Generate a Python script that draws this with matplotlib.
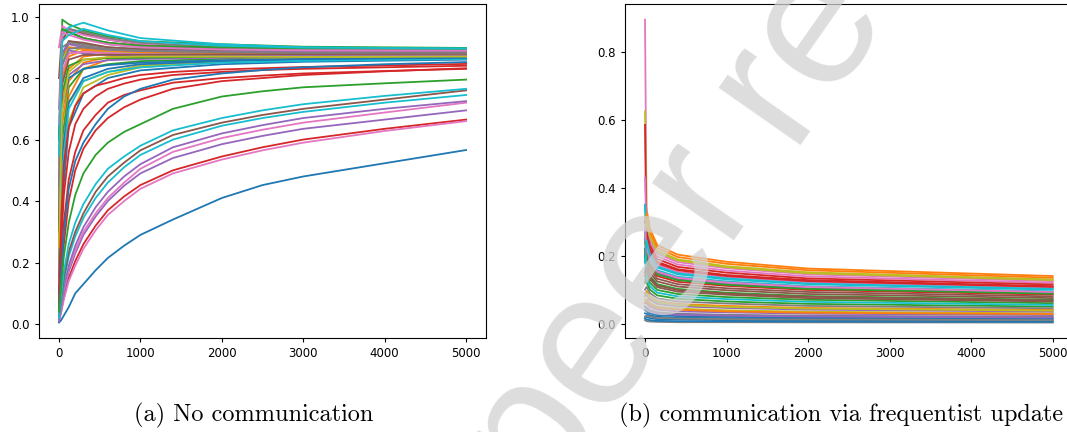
import matplotlib.pyplot as plt

x_slow = [0, 25, 60, 120, 200, 300, 450, 600, 800, 1000, 1400, 2000, 2500, 3000, 4000, 5000]
x_left = [0, 40, 120, 300, 600, 1000, 2000, 3000, 5000]
x_right = [0, 20, 60, 150, 400, 1000, 2000, 5000]

# (a) no communication -- slow learners (bottom fan)
left_slow = [
    [0.005, 0.012, 0.028, 0.055, 0.10, 0.13, 0.175, 0.215, 0.255, 0.29, 0.34, 0.41, 0.452, 0.48, 0.523, 0.566],
    [0.01, 0.04, 0.09, 0.15, 0.205, 0.26, 0.32, 0.37, 0.415, 0.452, 0.50, 0.545, 0.575, 0.60, 0.635, 0.665],
    [0.01, 0.035, 0.08, 0.14, 0.19, 0.245, 0.305, 0.355, 0.40, 0.44, 0.49, 0.535, 0.565, 0.59, 0.628, 0.66],
    [0.01, 0.05, 0.10, 0.17, 0.23, 0.29, 0.35, 0.40, 0.45, 0.49, 0.54, 0.585, 0.612, 0.635, 0.665, 0.695],
    [0.02, 0.055, 0.11, 0.18, 0.24, 0.30, 0.36, 0.41, 0.46, 0.505, 0.56, 0.605, 0.632, 0.655, 0.688, 0.72],
    [0.02, 0.06, 0.12, 0.19, 0.255, 0.315, 0.38, 0.43, 0.48, 0.52, 0.575, 0.62, 0.647, 0.67, 0.70, 0.725],
    [0.02, 0.07, 0.14, 0.22, 0.285, 0.345, 0.41, 0.46, 0.51, 0.55, 0.60, 0.645, 0.67, 0.69, 0.72, 0.745],
    [0.03, 0.08, 0.15, 0.235, 0.30, 0.36, 0.43, 0.48, 0.525, 0.565, 0.615, 0.655, 0.68, 0.70, 0.73, 0.76],
    [0.03, 0.09, 0.17, 0.26, 0.33, 0.39, 0.455, 0.505, 0.545, 0.58, 0.63, 0.67, 0.695, 0.715, 0.742, 0.765],
    [0.04, 0.12, 0.22, 0.33, 0.42, 0.49, 0.55, 0.59, 0.625, 0.65, 0.70, 0.74, 0.757, 0.77, 0.783, 0.795],
]
left_slow_colors = ['C0', 'C3', 'C6', 'C4', 'C6', 'C4', 'C9', 'C5', 'C9', 'C2']

# medium learners ending around 0.83-0.85
left_mid = [
    [0.05, 0.13, 0.26, 0.40, 0.50, 0.57, 0.63, 0.67, 0.705, 0.73, 0.765, 0.79, 0.80, 0.81, 0.822, 0.832],
    [0.06, 0.18, 0.33, 0.47, 0.56, 0.63, 0.68, 0.72, 0.745, 0.76, 0.785, 0.80, 0.808, 0.815, 0.823, 0.83],
    [0.08, 0.25, 0.42, 0.56, 0.65, 0.70, 0.74, 0.765, 0.782, 0.795, 0.81, 0.82, 0.826, 0.83, 0.835, 0.84],
    [0.10, 0.32, 0.52, 0.64, 0.71, 0.75, 0.775, 0.785, 0.80, 0.81, 0.82, 0.828, 0.832, 0.836, 0.841, 0.846],
    [0.05, 0.15, 0.30, 0.44, 0.53, 0.59, 0.65, 0.70, 0.74, 0.765, 0.795, 0.815, 0.826, 0.835, 0.845, 0.852],
]
left_mid_colors = ['C3', 'C3', 'C3', 'C3', 'C0']

# fast learners (top band)
left_band = [
    [0.15, 0.55, 0.74, 0.83, 0.86, 0.87, 0.875, 0.876, 0.877],
    [0.50, 0.93, 0.95, 0.93, 0.91, 0.90, 0.892, 0.89, 0.888],
    [0.10, 0.45, 0.66, 0.77, 0.81, 0.835, 0.855, 0.862, 0.868],
    [0.35, 0.72, 0.83, 0.87, 0.88, 0.882, 0.88, 0.879, 0.88],
    [0.20, 0.60, 0.77, 0.83, 0.845, 0.855, 0.862, 0.866, 0.87],
    [0.80, 0.96, 0.95, 0.93, 0.915, 0.905, 0.895, 0.892, 0.89],
    [0.25, 0.88, 0.92, 0.91, 0.90, 0.895, 0.89, 0.887, 0.886],
    [0.40, 0.80, 0.88, 0.90, 0.89, 0.885, 0.88, 0.878, 0.876],
    [0.05, 0.40, 0.64, 0.75, 0.80, 0.825, 0.845, 0.853, 0.86],
    [0.25, 0.65, 0.79, 0.85, 0.868, 0.872, 0.872, 0.872, 0.873],
    [0.30, 0.99, 0.975, 0.955, 0.935, 0.92, 0.91, 0.902, 0.898],
    [0.30, 0.70, 0.81, 0.845, 0.858, 0.862, 0.866, 0.868, 0.87],
    [0.60, 0.92, 0.96, 0.945, 0.925, 0.91, 0.90, 0.894, 0.892],
    [0.90, 0.97, 0.955, 0.94, 0.925, 0.912, 0.90, 0.895, 0.893],
    [0.70, 0.95, 0.96, 0.95, 0.93, 0.915, 0.90, 0.895, 0.893],
    [0.20, 0.55, 0.72, 0.79, 0.82, 0.84, 0.858, 0.864, 0.87],
    [0.50, 0.94, 0.965, 0.98, 0.955, 0.93, 0.91, 0.90, 0.896],
    [0.15, 0.55, 0.72, 0.80, 0.83, 0.845, 0.855, 0.86, 0.865],
    [0.40, 0.80, 0.87, 0.89, 0.885, 0.88, 0.877, 0.876, 0.876],
    [0.35, 0.75, 0.84, 0.86, 0.865, 0.866, 0.87, 0.872, 0.874],
    [0.50, 0.85, 0.89, 0.88, 0.875, 0.872, 0.872, 0.873, 0.874],
    [0.45, 0.86, 0.92, 0.915, 0.90, 0.893, 0.887, 0.885, 0.884],
    [0.35, 0.82, 0.88, 0.885, 0.882, 0.88, 0.879, 0.879, 0.88],
    [0.60, 0.90, 0.915, 0.905, 0.895, 0.89, 0.886, 0.884, 0.883],
    [0.50, 0.86, 0.90, 0.895, 0.888, 0.884, 0.882, 0.881, 0.88],
    [0.10, 0.50, 0.70, 0.79, 0.82, 0.835, 0.85, 0.856, 0.862],
    [0.30, 0.70, 0.80, 0.83, 0.842, 0.85, 0.858, 0.862, 0.866],
    [0.55, 0.88, 0.90, 0.895, 0.89, 0.885, 0.882, 0.881, 0.882],
    [0.60, 0.96, 0.95, 0.93, 0.915, 0.905, 0.90, 0.897, 0.895],
    [0.45, 0.88, 0.91, 0.90, 0.892, 0.888, 0.885, 0.884, 0.884],
    [0.30, 0.78, 0.86, 0.875, 0.876, 0.876, 0.877, 0.878, 0.879],
    [0.65, 0.95, 0.94, 0.925, 0.91, 0.90, 0.893, 0.89, 0.889],
    [0.40, 0.84, 0.895, 0.90, 0.893, 0.888, 0.884, 0.882, 0.882],
    [0.25, 0.70, 0.82, 0.86, 0.868, 0.87, 0.87, 0.869, 0.87],
    [0.55, 0.92, 0.94, 0.96, 0.94, 0.92, 0.905, 0.899, 0.896],
]
left_band_colors = ['C1', 'C7', 'C8', 'C1', 'C2', 'C5', 'C7', 'C8', 'C0', 'C1',
                    'C2', 'C4', 'C5', 'C6', 'C7', 'C8', 'C9', 'C0', 'C1', 'C2',
                    'C4', 'C5', 'C6', 'C7', 'C8', 'C9', 'C0', 'C1', 'C2', 'C4',
                    'C5', 'C6', 'C7', 'C8', 'C9']

# (b) communication via frequentist update
right_curves = [
    [0.02, 0.019, 0.016, 0.013, 0.012, 0.010, 0.009, 0.008],
    [0.35, 0.336, 0.28, 0.231, 0.203, 0.182, 0.162, 0.14],
    [0.20, 0.144, 0.12, 0.099, 0.087, 0.078, 0.07, 0.06],
    [0.25, 0.264, 0.22, 0.182, 0.16, 0.143, 0.128, 0.11],
    [0.25, 0.216, 0.18, 0.149, 0.131, 0.117, 0.104, 0.09],
    [0.15, 0.18, 0.15, 0.124, 0.109, 0.098, 0.087, 0.075],
    [0.895, 0.288, 0.24, 0.198, 0.174, 0.156, 0.139, 0.12],
    [0.01, 0.007, 0.006, 0.005, 0.004, 0.004, 0.0035, 0.003],
    [0.625, 0.312, 0.26, 0.215, 0.189, 0.169, 0.151, 0.13],
    [0.35, 0.24, 0.20, 0.165, 0.145, 0.13, 0.116, 0.10],
    [0.03, 0.029, 0.024, 0.02, 0.017, 0.016, 0.014, 0.012],
    [0.08, 0.096, 0.08, 0.066, 0.058, 0.052, 0.046, 0.04],
    [0.20, 0.168, 0.14, 0.116, 0.102, 0.091, 0.081, 0.07],
    [0.585, 0.204, 0.17, 0.14, 0.123, 0.111, 0.099, 0.085],
    [0.06, 0.06, 0.05, 0.041, 0.036, 0.033, 0.029, 0.025],
    [0.12, 0.156, 0.13, 0.107, 0.094, 0.085, 0.075, 0.065],
    [0.43, 0.252, 0.21, 0.173, 0.152, 0.137, 0.122, 0.105],
    [0.05, 0.048, 0.04, 0.033, 0.029, 0.026, 0.023, 0.02],
    [0.07, 0.072, 0.06, 0.05, 0.044, 0.039, 0.035, 0.03],
    [0.35, 0.228, 0.19, 0.157, 0.138, 0.124, 0.11, 0.095],
    [0.015, 0.012, 0.01, 0.008, 0.007, 0.0065, 0.006, 0.005],
    [0.30, 0.324, 0.27, 0.223, 0.196, 0.176, 0.157, 0.135],
    [0.22, 0.12, 0.10, 0.083, 0.073, 0.065, 0.058, 0.05],
    [0.30, 0.276, 0.23, 0.19, 0.167, 0.15, 0.133, 0.115],
    [0.09, 0.084, 0.07, 0.058, 0.051, 0.046, 0.041, 0.035],
    [0.18, 0.192, 0.16, 0.132, 0.116, 0.104, 0.093, 0.08],
    [0.28, 0.30, 0.25, 0.206, 0.181, 0.163, 0.145, 0.125],
    [0.10, 0.108, 0.09, 0.074, 0.065, 0.059, 0.052, 0.045],
    [0.26, 0.307, 0.256, 0.211, 0.186, 0.166, 0.148, 0.128],
    [0.27, 0.132, 0.11, 0.091, 0.08, 0.072, 0.064, 0.055],
    [0.04, 0.036, 0.03, 0.025, 0.022, 0.02, 0.017, 0.015],
    [0.06, 0.067, 0.056, 0.046, 0.041, 0.036, 0.032, 0.028],
    [0.24, 0.211, 0.176, 0.145, 0.128, 0.114, 0.102, 0.088],
    [0.20, 0.259, 0.216, 0.178, 0.157, 0.14, 0.125, 0.108],
    [0.05, 0.043, 0.036, 0.03, 0.026, 0.023, 0.021, 0.018],
    [0.14, 0.163, 0.136, 0.112, 0.099, 0.088, 0.079, 0.068],
    [0.28, 0.223, 0.186, 0.153, 0.135, 0.121, 0.108, 0.093],
    [0.02, 0.024, 0.02, 0.017, 0.015, 0.013, 0.012, 0.01],
    [0.09, 0.091, 0.076, 0.063, 0.055, 0.049, 0.044, 0.038],
    [0.18, 0.245, 0.204, 0.168, 0.148, 0.133, 0.118, 0.102],
]

captions = ['(a) No communication', '(b) communication via frequentist update']

fig = plt.figure(figsize=(10.67, 4.32), dpi=100)
ax1 = fig.add_axes([0.0362, 0.2183, 0.4197, 0.7713])
ax2 = fig.add_axes([0.5854, 0.2183, 0.4203, 0.7713])

for ys, c in zip(left_band, left_band_colors):
    ax1.plot(x_left, ys, color=c, lw=1.3)
for ys, c in zip(left_mid, left_mid_colors):
    ax1.plot(x_slow, ys, color=c, lw=1.3)
for ys, c in zip(left_slow, left_slow_colors):
    ax1.plot(x_slow, ys, color=c, lw=1.3)

for i, ys in enumerate(right_curves):
    ax2.plot(x_right, ys, color='C%d' % (i % 10), lw=1.3)

for ax in (ax1, ax2):
    ax.set_xticks([0, 1000, 2000, 3000, 4000, 5000])
    ax.tick_params(labelsize=8.5, length=3)

fig.text(254 / 1067, 0.039, captions[0], family='cmr10', fontsize=17.5,
         ha='center', va='center')
fig.text(841 / 1067, 0.039, captions[1], family='cmr10', fontsize=17.5,
         ha='center', va='center')

# watermark
fig.text(0.511, -0.181, 'peer reviewed', rotation=55, rotation_mode='anchor',
         ha='left', va='baseline', fontsize=137, family='Liberation Sans',
         color='#d2d2d2', alpha=0.75, zorder=10)

fig.savefig('out.png', dpi=100)
